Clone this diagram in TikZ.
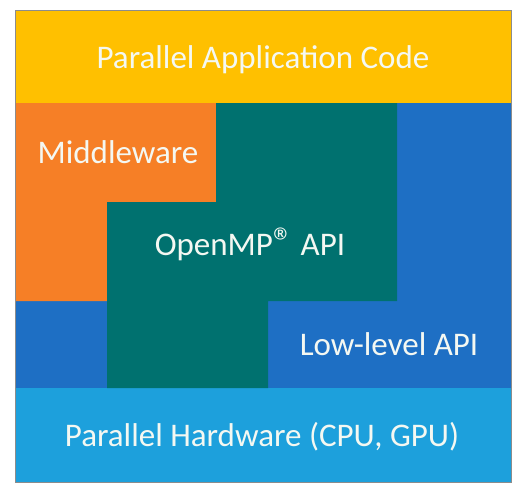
\documentclass[tikz,border=0pt]{standalone}
\usepackage{fontspec}
\setmainfont{Carlito}
\definecolor{cyellow}{HTML}{FFC000}
\definecolor{corange}{HTML}{F67F26}
\definecolor{cteal}{HTML}{00716F}
\definecolor{cblue}{HTML}{1E6FC4}
\definecolor{clight}{HTML}{1DA0DC}
\definecolor{ctext}{HTML}{F4F8F2}
\newcommand{\regmark}{{\fontsize{40}{40}\selectfont ®}}
\begin{document}
\begin{tikzpicture}[x=1pt,y=-1pt,
  lbl/.style={text=ctext,font=\fontsize{33}{37}\selectfont,inner sep=0pt,anchor=base}]
\useasboundingbox (0,0) rectangle (518,488);
\fill[white] (0,0) rectangle (518,488);
% blue middle band
\fill[cblue] (15,103) rectangle (511,388);
% yellow top
\fill[cyellow] (15,10) rectangle (511,103);
% light blue bottom
\fill[clight] (15,388) rectangle (511,482);
% orange
\fill[corange] (15,103) -- (216,103) -- (216,202) -- (107,202) -- (107,301) -- (15,301) -- cycle;
% teal
\fill[cteal] (216,103) -- (397,103) -- (397,301) -- (268,301) -- (268,388) -- (107,388) -- (107,202) -- (216,202) -- cycle;
% outline
\draw[line width=0.8pt,draw=black!45] (15,10) rectangle (511,482);
\node[lbl] (app) at (263,68) {Parallel Application Code};
\node[lbl] (mid) at (118,163) {Middleware};
\node[lbl] (omp) at (250,255) {OpenMP\regmark\ API};
\node[lbl] (low) at (389,355) {Low-level API};
\node[lbl] (hw) at (262,446) {Parallel Hardware (CPU, GPU)};
\end{tikzpicture}
\end{document}
